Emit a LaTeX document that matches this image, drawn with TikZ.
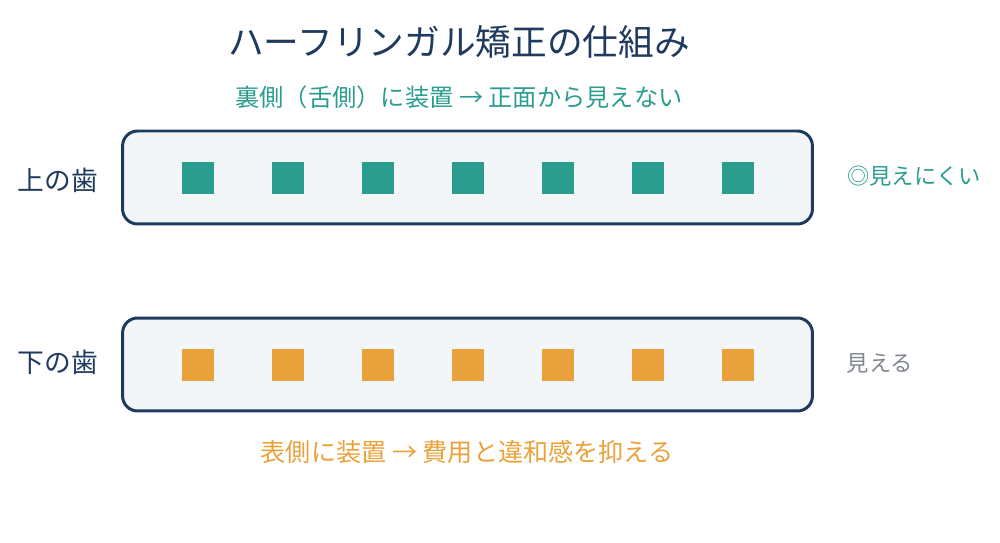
\documentclass[tikz,border=0pt]{standalone}
\usepackage{fontspec}
\setmainfont{Noto Sans CJK JP}
\usetikzlibrary{positioning}
\definecolor{navy}{HTML}{1F3A5F}
\definecolor{teal}{HTML}{2A9D8F}
\definecolor{amber}{HTML}{E9A23B}
\definecolor{greytext}{HTML}{7F8790}
\definecolor{boxfill}{HTML}{F3F6F9}
\begin{document}
\begin{tikzpicture}
  [
  x=0.02cm, y=-0.02cm,
  toothbox/.style={rectangle, rounded corners=0.3cm, draw=navy, line width=1.7pt, fill=boxfill, minimum width=13.8cm, minimum height=1.86cm, inner sep=0pt},
  bracket/.style={rectangle, inner sep=0pt, minimum size=0.64cm},
  rowlabel/.style={text=navy, font=\fontsize{15.2}{17}\selectfont},
  note/.style={font=\fontsize{12.7}{14}\selectfont},
  caption/.style={font=\fontsize{13.8}{16}\selectfont},
  ]
  \useasboundingbox (0,0) rectangle (1000,543);

  \node[text=navy, font=\fontsize{20.3}{24}\selectfont] (title) at (459,42) {ハーフリンガル矯正の仕組み};
  \node[caption, text=teal] (lingual) at (459,97) {裏側（舌側）に装置 → 正面から見えない};

  \node[toothbox] (upper) at (467.5,177.5) {};
  \node[toothbox] (lower) at (467.5,364.5) {};

  \foreach \i in {0,...,6} {
    \node[bracket, fill=teal] (up\i) at (198+90*\i,178) {};
    \node[bracket, fill=amber] (lo\i) at (198+90*\i,365) {};
  }

  \node[rowlabel] (upperlbl) at (58,180) {上の歯};
  \node[rowlabel] (lowerlbl) at (58,362) {下の歯};
  \node[note, text=teal] (hidden) at (914,176) {◎見えにくい};
  \node[note, text=greytext] (visible) at (880,363) {見える};

  \node[caption, text=amber, font=\fontsize{14.3}{16}\selectfont] (labial) at (467,452) {表側に装置 → 費用と違和感を抑える};
\end{tikzpicture}
\end{document}
